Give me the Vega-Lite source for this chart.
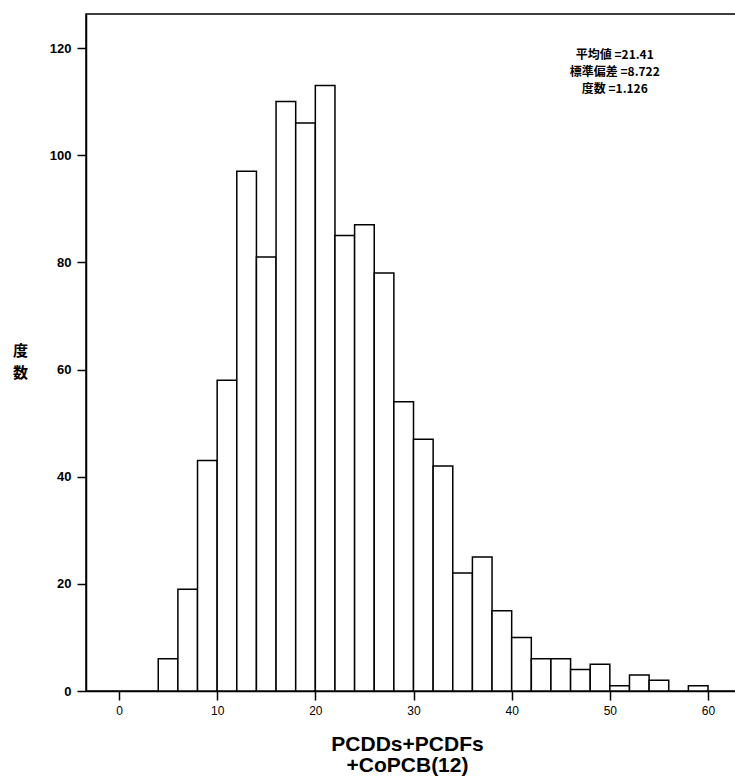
{
  "$schema": "https://vega.github.io/schema/vega-lite/v6.json",
  "width": 650,
  "height": 677,
  "autosize": "none",
  "padding": {"left": 86, "top": 14, "right": 0, "bottom": 89},
  "background": "white",
  "config": {
    "view": {"stroke": "black", "strokeWidth": 1.5},
    "axis": {
      "grid": false,
      "domainColor": "black",
      "domainWidth": 1.5,
      "tickColor": "black",
      "tickWidth": 1.5,
      "tickSize": 9,
      "labelColor": "black",
      "titleColor": "black",
      "labelFont": "Liberation Sans",
      "titleFont": "Liberation Sans"
    }
  },
  "layer": [
    {
      "data": {
        "values": [
          {"bin_start": 4, "bin_end": 6, "count": 6},
          {"bin_start": 6, "bin_end": 8, "count": 19},
          {"bin_start": 8, "bin_end": 10, "count": 43},
          {"bin_start": 10, "bin_end": 12, "count": 58},
          {"bin_start": 12, "bin_end": 14, "count": 97},
          {"bin_start": 14, "bin_end": 16, "count": 81},
          {"bin_start": 16, "bin_end": 18, "count": 110},
          {"bin_start": 18, "bin_end": 20, "count": 106},
          {"bin_start": 20, "bin_end": 22, "count": 113},
          {"bin_start": 22, "bin_end": 24, "count": 85},
          {"bin_start": 24, "bin_end": 26, "count": 87},
          {"bin_start": 26, "bin_end": 28, "count": 78},
          {"bin_start": 28, "bin_end": 30, "count": 54},
          {"bin_start": 30, "bin_end": 32, "count": 47},
          {"bin_start": 32, "bin_end": 34, "count": 42},
          {"bin_start": 34, "bin_end": 36, "count": 22},
          {"bin_start": 36, "bin_end": 38, "count": 25},
          {"bin_start": 38, "bin_end": 40, "count": 15},
          {"bin_start": 40, "bin_end": 42, "count": 10},
          {"bin_start": 42, "bin_end": 44, "count": 6},
          {"bin_start": 44, "bin_end": 46, "count": 6},
          {"bin_start": 46, "bin_end": 48, "count": 4},
          {"bin_start": 48, "bin_end": 50, "count": 5},
          {"bin_start": 50, "bin_end": 52, "count": 1},
          {"bin_start": 52, "bin_end": 54, "count": 3},
          {"bin_start": 54, "bin_end": 56, "count": 2},
          {"bin_start": 58, "bin_end": 60, "count": 1}
        ]
      },
      "mark": {"type": "rect", "fill": "white", "stroke": "black", "strokeWidth": 1.5},
      "encoding": {
        "x": {
          "field": "bin_start",
          "type": "quantitative",
          "scale": {"domain": [-3.36, 62.85], "nice": false, "zero": false},
          "axis": {
            "values": [0, 10, 20, 30, 40, 50, 60],
            "labelFontSize": 12,
            "labelPadding": 5,
            "title": ["PCDDs+PCDFs", "+CoPCB(12)"],
            "titleFontSize": 21,
            "titleFontWeight": "bold",
            "titleLineHeight": 21,
            "titleBaseline": "top",
            "titleAlign": "center",
            "titleX": 321,
            "titleY": 42
          }
        },
        "x2": {"field": "bin_end"},
        "y": {
          "field": "count",
          "type": "quantitative",
          "scale": {"domain": [0, 126.35], "nice": false},
          "axis": {
            "values": [0, 20, 40, 60, 80, 100, 120],
            "labelFontSize": 13,
            "labelFontWeight": "bold",
            "labelPadding": 6,
            "title": ["度", "数"],
            "titleFont": "Noto Sans CJK JP",
            "titleFontSize": 15,
            "titleFontWeight": "bold",
            "titleAngle": 0,
            "titleLineHeight": 22,
            "titleAlign": "center",
            "titleBaseline": "middle",
            "titleX": -66,
            "titleY": 336
          }
        }
      }
    },
    {
      "data": {"values": [{"label": "平均値 =21.41\n標準偏差 =8.722\n度数 =1.126"}]},
      "mark": {
        "type": "text",
        "lineBreak": "\n",
        "align": "center",
        "baseline": "top",
        "font": "Noto Sans CJK JP",
        "fontSize": 12,
        "fontWeight": "bold",
        "lineHeight": 17,
        "color": "black"
      },
      "encoding": {
        "x": {"datum": 50.5, "type": "quantitative"},
        "y": {"datum": 119.6, "type": "quantitative"},
        "text": {"field": "label"}
      }
    }
  ]
}
